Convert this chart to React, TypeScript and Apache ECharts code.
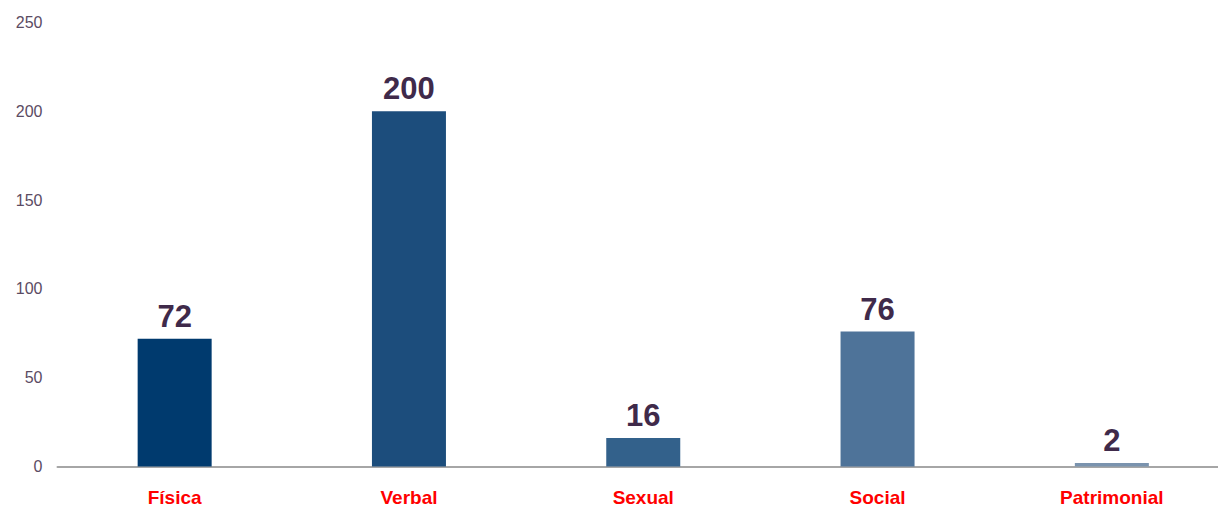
import React, { useEffect, useRef } from "react";
import * as echarts from "echarts";

const categories = ["Física", "Verbal", "Sexual", "Social", "Patrimonial"];
const values = [72, 200, 16, 76, 2];
const barColors = ["#003a6e", "#1c4d7c", "#33618b", "#4e7399", "#7a93ae"];
const yTicks = [0, 50, 100, 150, 200, 250];

export default function App() {
  const ref = useRef<HTMLDivElement>(null);
  useEffect(() => {
    if (!ref.current) return;
    const chart = echarts.init(ref.current, undefined, { renderer: "svg" });
    chart.setOption({
      animation: false,
      backgroundColor: "#ffffff",
      grid: { left: 57.5, top: 22.5, right: 0, height: 444, containLabel: false },
      xAxis: {
        type: "category",
        data: categories,
        axisLine: { lineStyle: { color: "#a6a6a6", width: 2 } },
        axisTick: { show: false },
        axisLabel: {
          color: "#ff0000",
          fontWeight: "bold",
          fontSize: 19,
          fontFamily: "Liberation Sans, Arial, sans-serif",
          margin: 21,
        },
      },
      yAxis: {
        type: "value",
        min: yTicks[0],
        max: yTicks[yTicks.length - 1],
        interval: 50,
        splitLine: { show: false },
        axisLine: { show: false },
        axisTick: { show: false },
        axisLabel: {
          color: "#5b4b63",
          fontSize: 16,
          fontFamily: "Liberation Sans, Arial, sans-serif",
          margin: 15,
        },
      },
      series: [
        {
          type: "bar",
          barWidth: 74,
          data: values.map((v, i) => ({ value: v, itemStyle: { color: barColors[i] } })),
          label: {
            show: true,
            position: "top",
            distance: 7,
            color: "#3f2a4a",
            fontSize: 31,
            fontWeight: "bold",
            fontFamily: "Liberation Sans, Arial, sans-serif",
          },
        },
      ],
    });
    return () => chart.dispose();
  }, []);
  return (
    <div
      style={{ position: "absolute", left: 0, top: 0, width: 1218, height: 508, overflow: "hidden" }}
    >
      <div ref={ref} style={{ width: 1229, height: 508 }} />
    </div>
  );
}
